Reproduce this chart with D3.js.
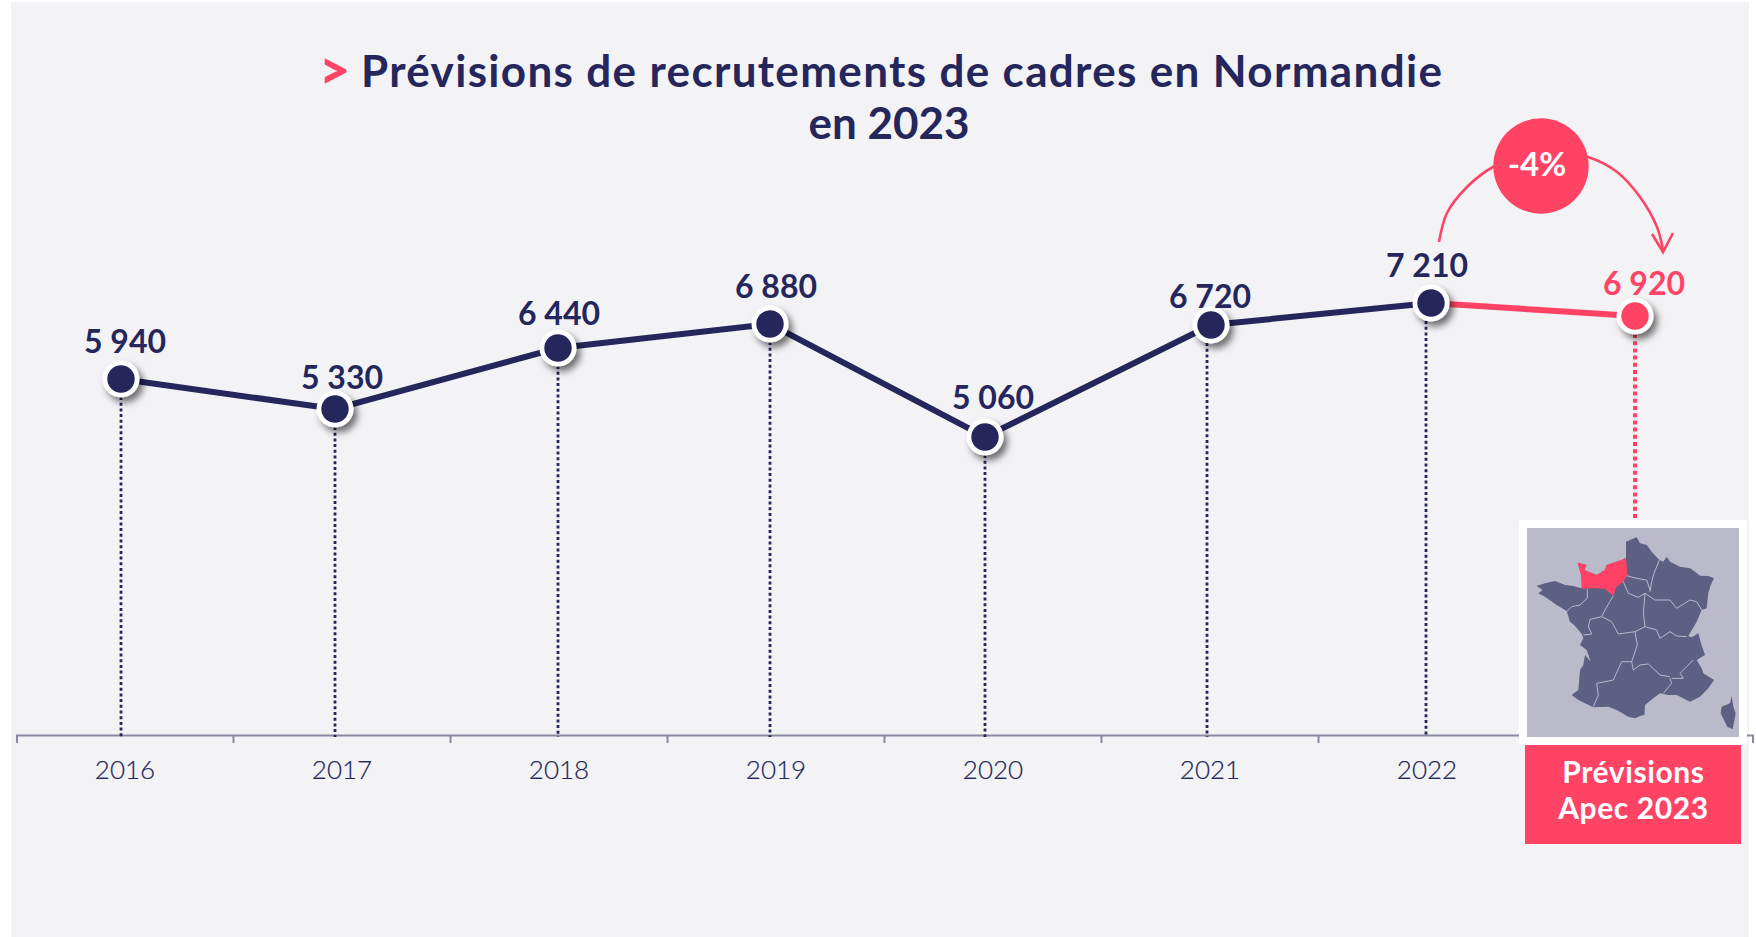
<!DOCTYPE html>
<html lang="fr"><head><meta charset="utf-8">
<script src="https://cdn.jsdelivr.net/npm/d3@7/dist/d3.min.js"></script>
<style>html,body{margin:0;padding:0;background:#fff;overflow:hidden}svg{display:block}
text{font-family:Lato,"Open Sans",sans-serif}</style></head><body>
<svg id="c" width="1756" height="937"></svg>
<script>
// ---- data ----
const years = ["2016","2017","2018","2019","2020","2021","2022","2023"];
const recruitments = [5940,5330,6440,6880,5060,6720,7210,6920];
const valueLabels = ["5 940","5 330","6 440","6 880","5 060","6 720","7 210","6 920"];
const titleLines = ["Prévisions de recrutements de cadres en Normandie","en 2023"];
const changeLabel = "-4%";
const boxLines = ["Prévisions","Apec 2023"];
// The infographic was hand-placed: markers sit a few px off their band centre and not strictly to scale.
const markerShift = [-4,-7,-1,-6,-8,1,4,-9];
const dropShift = [-4,-7,-1,-6,-8,-3,-1,-9];

// map tracing (in map units)
const franceOutline = [[378,143],[378,95],[395,88],[410,82],[420,100],[440,105],[455,125],[478,150],[490,155],[500,140],[510,155],[540,170],[570,175],[585,185],[600,197],[625,198],[642,205],[632,225],[625,250],[622,275],[620,295],[605,300],[590,335],[565,378],[575,382],[595,370],[603,400],[615,435],[590,450],[605,475],[610,490],[642,510],[625,535],[600,560],[570,575],[530,555],[505,555],[480,550],[460,565],[435,585],[433,615],[420,618],[405,625],[385,620],[350,600],[325,590],[280,592],[260,582],[235,570],[215,555],[235,540],[240,480],[250,465],[255,435],[272,455],[260,420],[240,405],[250,385],[245,372],[240,365],[222,345],[210,335],[200,303],[170,285],[135,260],[115,250],[128,240],[110,228],[135,220],[165,213],[195,225],[220,228],[245,235],[245,195],[233,158],[260,165],[253,180],[290,195],[315,180],[320,165],[365,150]];
const normandy = [[233,158],[260,165],[253,180],[290,195],[315,180],[320,165],[365,150],[378,143],[382,195],[370,215],[350,230],[340,257],[315,237],[280,234],[247,237],[243,195]];
const corsica = [[695,557],[700,590],[707,610],[698,658],[682,650],[662,610],[665,590],[690,580]];
const regionBorders = [
 [[262,237],[262,265],[240,285],[215,290],[200,305]],
 [[340,257],[315,300],[305,320],[270,328],[265,350],[275,372],[250,375]],
 [[305,320],[335,335],[355,372],[405,365]],
 [[370,215],[385,250],[415,262],[435,250]],
 [[380,197],[410,205],[440,210],[450,240]],
 [[478,150],[462,190],[455,215],[450,245]],
 [[435,250],[465,270],[510,270],[530,295],[570,270],[590,275],[605,300]],
 [[435,250],[430,310],[435,350],[405,365]],
 [[435,350],[470,360],[480,385],[510,365],[530,378],[560,380]],
 [[405,365],[412,405],[395,455]],
 [[395,455],[365,455],[340,510],[290,520],[295,555],[280,590]],
 [[395,455],[400,480],[420,465],[445,462],[480,495],[510,500]],
 [[510,505],[515,520],[490,550]],
 [[580,450],[540,490],[550,505],[515,505]]
];

// ---- palette ----
const navy="#24265c", pink="#ff4365", panel="#f3f3f6";

const svg=d3.select("#c");
const defs=svg.append("defs");
const f=defs.append("filter").attr("id","sh").attr("x","-50%").attr("y","-50%").attr("width","200%").attr("height","200%");
f.append("feDropShadow").attr("dx",4).attr("dy",5).attr("stdDeviation",3.5).attr("flood-color","#000").attr("flood-opacity",.55);
defs.append("filter").attr("id","soft").append("feGaussianBlur").attr("stdDeviation",.45);

svg.append("rect").attr("x",11).attr("y",2).attr("width",1738).attr("height",935).attr("fill",panel);

// ---- scales ----
const x=d3.scaleBand().domain(years).range([16.5,1752.5]);
const cx=i=>x(years[i])+x.bandwidth()/2;
const axisY=735;
const sortedVals=[5060,5330,5940,6440,6720,6880,6920,7210];
const y=d3.scaleLinear().domain(sortedVals).range([437,409,379,348,325,324,316,303]);
const yLabel=d3.scaleLinear().domain([5060,5330,5940,6440,7210]).range([409,389,353,325,277]);

// ---- title ----
const title=svg.append("g").attr("fill",navy).attr("font-weight",700).attr("font-size",44);
title.append("text").attr("x",319).attr("y",89).attr("fill",pink).attr("font-size",54).attr("font-weight",900).text(">");
title.append("text").attr("x",361).attr("y",87).attr("textLength",1081).attr("lengthAdjust","spacing").text(titleLines[0]);
title.append("text").attr("x",889).attr("y",139).attr("text-anchor","middle").text(titleLines[1]);

// ---- axis ----
const axis=d3.axisBottom(x).tickValues(years.slice(0,7)).tickSize(0).tickSizeOuter(8).tickPadding(26);
const gx=svg.append("g").attr("transform",`translate(0,${axisY})`).call(axis);
gx.select(".domain").attr("stroke","#8a8a9e").attr("stroke-width",2).attr("fill","none");
gx.selectAll("text").attr("font-size",26).attr("fill",navy).attr("stroke",navy).attr("stroke-width",.2).attr("font-family","Lato").attr("font-weight",300);
svg.append("g").selectAll("line").data(years.slice(1)).join("line")
 .attr("x1",d=>x(d)).attr("x2",d=>x(d)).attr("y1",axisY).attr("y2",axisY+8)
 .attr("stroke","#8a8a9e").attr("stroke-width",2);

// ---- drop lines ----
const idx=d3.range(years.length);
svg.append("g").selectAll("line").data(idx.slice(0,7)).join("line")
 .attr("x1",i=>cx(i)+dropShift[i]).attr("x2",i=>cx(i)+dropShift[i])
 .attr("y1",i=>y(recruitments[i])+18).attr("y2",axisY+2)
 .attr("stroke",navy).attr("stroke-width",2.8).attr("stroke-dasharray","3 2.7");
svg.append("line").attr("x1",cx(7)+dropShift[7]).attr("x2",cx(7)+dropShift[7])
 .attr("y1",y(recruitments[7])+18).attr("y2",520)
 .attr("stroke",pink).attr("stroke-width",4).attr("stroke-dasharray","4 3.2");

// ---- lines ----
const line=d3.line().x(i=>cx(i)+markerShift[i]).y(i=>y(recruitments[i]));
svg.append("path").attr("d",line(idx.slice(0,7))).attr("fill","none").attr("stroke",navy).attr("stroke-width",6);
svg.append("path").attr("d",line(idx.slice(6,8))).attr("fill","none").attr("stroke",pink).attr("stroke-width",6);

// ---- markers ----
const mk=svg.append("g").selectAll("g").data(idx).join("g")
 .attr("transform",i=>`translate(${cx(i)+markerShift[i]},${y(recruitments[i])})`);
mk.append("circle").attr("r",18.5).attr("fill","#fff").attr("filter","url(#sh)");
mk.append("circle").attr("r",13.7).attr("fill",i=>i===7?pink:navy);

// ---- value labels ----
svg.append("g").selectAll("text").data(idx).join("text")
 .attr("x",cx).attr("y",i=>yLabel(recruitments[i])).attr("text-anchor","middle")
 .attr("font-size",32).attr("font-weight",700).attr("fill",i=>i===7?pink:navy)
 .text(i=>valueLabels[i]);

// ---- change arrow ----
const arc=d3.line().curve(d3.curveCatmullRom);
svg.append("path").attr("d",arc([[1439,242],[1447,213],[1467,187],[1493,167],[1541,150],[1588,157],[1617,172],[1640,197],[1657,227],[1663,250]]))
 .attr("fill","none").attr("stroke",pink).attr("stroke-width",2.6);
svg.append("path").attr("d",d3.line()([[1652,234],[1663,252],[1673,233]])).attr("fill","none").attr("stroke",pink).attr("stroke-width",2.6);
svg.append("circle").attr("cx",1541).attr("cy",166).attr("r",47.7).attr("fill",pink);
svg.append("text").attr("x",1537).attr("y",176).attr("text-anchor","middle").attr("font-size",33).attr("font-weight",700).attr("fill","#fff").text(changeLabel);

// ---- map inset ----
svg.append("rect").attr("x",1519).attr("y",520).attr("width",228).attr("height",225).attr("rx",3).attr("fill","#fff");
svg.append("rect").attr("x",1527).attr("y",528).attr("width",212).attr("height",209).attr("fill","#babacb");
const mx=d3.scaleLinear().domain([0,768]).range([1500,1756]);
const my=d3.scaleLinear().domain([0,1020]).range([510,850]);
const mapLine=d3.line().x(d=>mx(d[0])).y(d=>my(d[1]));
const mapG=svg.append("g").attr("filter","url(#soft)");
mapG.append("path").attr("d",mapLine(franceOutline)+"Z").attr("fill","#5d5e83");
mapG.append("path").attr("d",mapLine(corsica)+"Z").attr("fill","#5d5e83");
mapG.selectAll("path.b").data(regionBorders).join("path").attr("class","b").attr("d",mapLine)
 .attr("fill","none").attr("stroke","#b9b9cb").attr("stroke-width",1);
mapG.append("path").attr("d",mapLine(normandy)+"Z").attr("fill",pink);

// ---- label box ----
svg.append("rect").attr("x",1525).attr("y",745).attr("width",216).attr("height",99).attr("fill",pink);
svg.append("g").selectAll("text").data(boxLines).join("text")
 .attr("x",1633.5).attr("y",(d,i)=>783+i*36).attr("text-anchor","middle")
 .attr("font-size",30).attr("font-weight",700).attr("letter-spacing",.6).attr("fill","#fff").text(d=>d);
</script></body></html>
